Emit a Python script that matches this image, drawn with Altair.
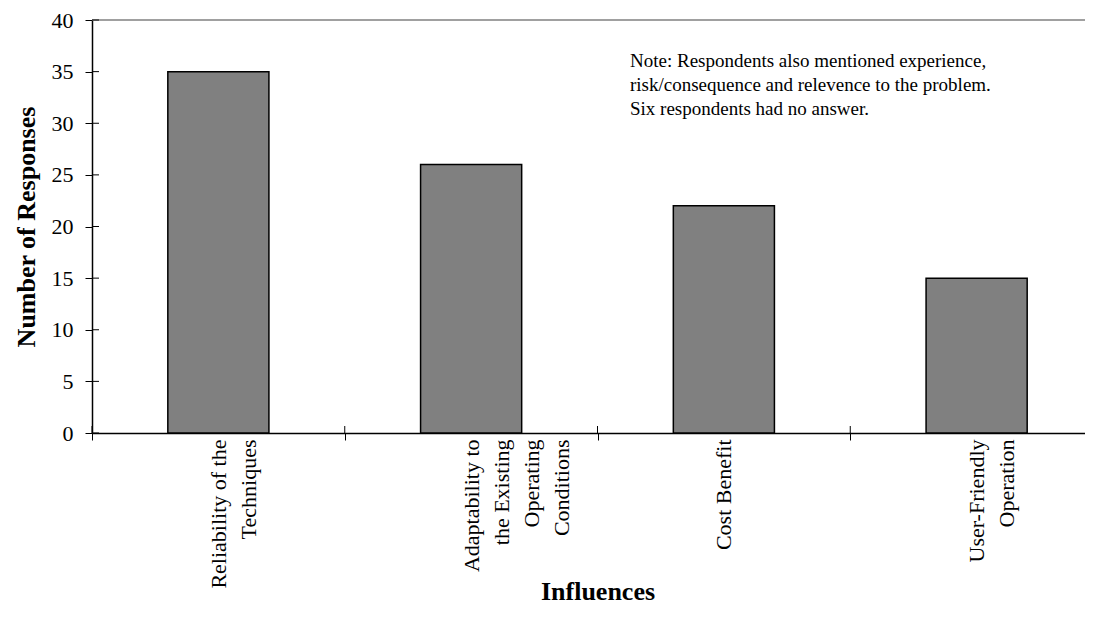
import altair as alt
import pandas as pd

categories = [
    "Reliability of the|Techniques",
    "Adaptability to|the Existing|Operating|Conditions",
    "Cost Benefit",
    "User-Friendly|Operation",
]
responses = [35, 26, 22, 15]
y_ticks = [0, 5, 10, 15, 20, 25, 30, 35, 40]
note_lines = [
    "Note: Respondents also mentioned experience,",
    "risk/consequence and relevence to the problem.",
    "Six respondents had no answer.",
]

df = pd.DataFrame({"influence": categories, "responses": responses})
ticks_df = pd.DataFrame({"tick": y_ticks})

FONT = "Liberation Serif"

x_scale = alt.Scale(domain=categories, range=[0, 1011], paddingInner=0, paddingOuter=0)
y_scale = alt.Scale(domain=[0, 40], nice=False)

bars = alt.Chart(df).mark_bar(
    fill="#808080", stroke="black", strokeWidth=1.5, width=alt.RelativeBandSize(0.4)
).encode(
    x=alt.X(
        "influence:N",
        scale=x_scale,
        sort=categories,
        axis=alt.Axis(
            title="Influences",
            titleFont=FONT,
            titleFontSize=26,
            titleFontWeight="bold",
            titleColor="black",
            titleY=166,
            titleBaseline="alphabetic",
            labelFont=FONT,
            labelFontSize=22,
            labelColor="black",
            labelAngle=-90,
            labelAlign="right",
            labelBaseline="middle",
            labelLineHeight=30,
            labelPadding=-1,
            labelExpr="split(datum.label, '|')",
            tickBand="extent",
            tickSize=7,
            tickColor="black",
            domainColor="black",
            domainWidth=1.5,
            grid=False,
        ),
    ),
    y=alt.Y(
        "responses:Q",
        scale=y_scale,
        axis=alt.Axis(
            title="Number of Responses",
            titleFont=FONT,
            titleFontSize=26,
            titleFontWeight="bold",
            titleColor="black",
            titlePadding=12,
            labelFont=FONT,
            labelFontSize=22,
            labelColor="black",
            labelPadding=12,
            values=y_ticks,
            tickSize=7,
            tickColor="black",
            domainColor="black",
            domainWidth=1.5,
            grid=False,
        ),
    ),
)

# inner halves of the crossing tick marks
y_inner_ticks = alt.Chart(ticks_df).mark_rule(color="black", strokeWidth=1).encode(
    y=alt.Y("tick:Q", scale=y_scale), x=alt.value(0), x2=alt.value(7)
)
x_inner_ticks = alt.Chart(df).mark_rule(color="black", strokeWidth=1).encode(
    x=alt.X("influence:N", scale=x_scale, sort=categories, bandPosition=0),
    y=alt.value(413),
    y2=alt.value(406),
)

top_line = alt.Chart(alt.Data(values=[{}])).mark_rule(color="#808080", strokeWidth=1.5).encode(
    x=alt.value(0), x2=alt.value(1011), y=alt.value(0)
)

note = alt.Chart(alt.Data(values=[{}])).mark_text(
    text=note_lines,
    font=FONT,
    fontSize=19,
    color="black",
    align="left",
    baseline="alphabetic",
    lineHeight=24,
).encode(x=alt.value(538), y=alt.Y(datum=35.45, scale=y_scale))

chart = alt.layer(top_line, bars, y_inner_ticks, x_inner_ticks, note).properties(
    width=993,
    height=413,
    autosize=alt.AutoSizeParams(type="none"),
    padding={"left": 84, "top": 12, "right": 0, "bottom": 180},
).configure_view(stroke=None)

chart.save("out.html", embed_options={"renderer": "svg", "actions": False})
